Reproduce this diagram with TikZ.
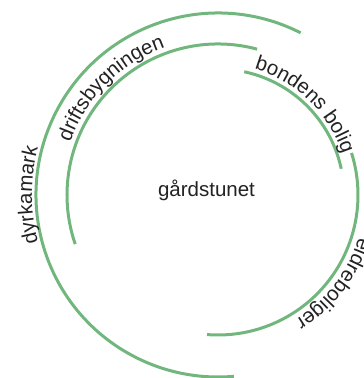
\documentclass[tikz,border=0pt]{standalone}
\usepackage{fontspec}
\setmainfont{Liberation Sans}
\usepackage{tikz}
\usetikzlibrary{decorations.text}

\definecolor{ringgreen}{RGB}{113,183,125}
\definecolor{labelgray}{RGB}{34,34,34}
\tikzset{ring/.style={draw=ringgreen, line width=3pt},
  ringlabel/.style={decorate, decoration={text along path, text align=center,
    text color=labelgray, text={|\fontsize{20.5}{24}\selectfont|#1}}}}

\begin{document}
\begin{tikzpicture}
\useasboundingbox (-218pt,-183pt) rectangle (146pt,195pt);

\draw [ring] (63:182pt) arc [start angle=63, end angle=275, radius=182pt];
\draw [ring] (75:151pt) arc [start angle=75, end angle=199, radius=151pt];
\draw [ring] (78:126pt) arc [start angle=78, end angle=12, radius=126pt];
\draw [ring] (17.5:140pt) arc [start angle=17.5, end angle=-94.5, radius=140pt];

\node [font=\fontsize{20.5}{24}\selectfont, text=labelgray] (tun) at (-11.5pt,5pt) {gårdstunet};

\path [ringlabel=dyrkamark] (240:186pt) arc [start angle=240, end angle=120, radius=186pt];
\path [ringlabel=driftsbygningen] (195:157pt) arc [start angle=195, end angle=75, radius=157pt];
\path [ringlabel=bondens bolig] (106:131pt) arc [start angle=106, end angle=-14, radius=131pt];
\path [ringlabel=eldreboliger] (22:147pt) arc [start angle=22, end angle=-97, radius=147pt];
\end{tikzpicture}
\end{document}
